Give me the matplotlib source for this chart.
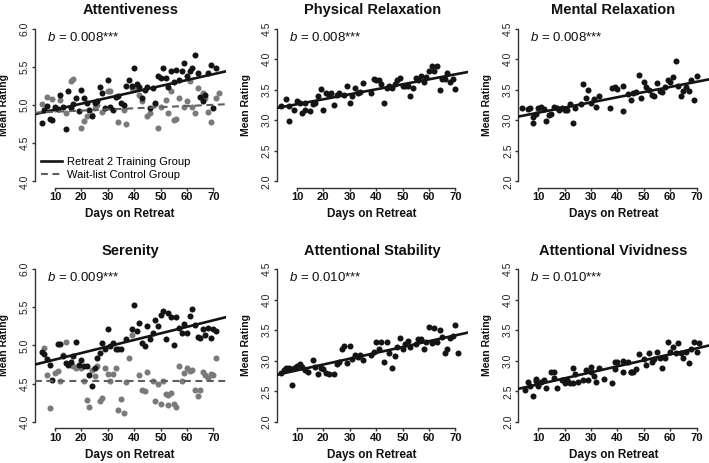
import matplotlib
matplotlib.use('Agg')
import matplotlib.pyplot as plt
from matplotlib.lines import Line2D

plt.rcParams['font.family'] = ['Liberation Sans', 'DejaVu Sans']
plt.rcParams['mathtext.fontset'] = 'custom'
plt.rcParams['mathtext.it'] = 'Liberation Sans:italic'
plt.rcParams['mathtext.rm'] = 'Liberation Sans'

# ---------------- data ----------------
titles = ['Attentiveness', 'Physical Relaxation', 'Mental Relaxation',
          'Serenity', 'Attentional Stability', 'Attentional Vividness']
b_labels = ['0.008', '0.008', '0.008', '0.009', '0.010', '0.010']
y_ranges = [(4.0, 6.0), (2.0, 4.5), (2.0, 4.5), (4.0, 6.0), (2.0, 4.5), (2.0, 4.5)]
x_ticks = [10, 20, 30, 40, 50, 60, 70]
x_range = (5, 72)

# Attentiveness - training group
att_t_days = list(range(5, 72))
att_t_vals = [4.77, 4.93, 4.99, 4.82, 4.80, 4.98, 4.95, 5.13, 4.97, 4.69,
              5.18, 4.96, 5.01, 5.09, 4.92, 5.20, 5.09, 5.02, 4.94, 4.85,
              5.02, 5.05, 5.24, 5.16, 4.96, 5.33, 4.98, 4.93, 5.10, 5.12,
              5.02, 5.00, 5.25, 5.33, 5.25, 5.49, 5.27, 5.24, 5.09, 5.20,
              5.23, 4.96, 5.22, 5.02, 5.38, 5.35, 5.49, 5.35, 5.24, 5.44,
              5.30, 5.46, 5.33, 5.45, 5.55, 5.38, 5.45, 5.49, 5.66, 5.42,
              5.11, 5.05, 5.13, 5.42, 5.53, 4.96, 5.49]
# Attentiveness - wait-list control group
att_c_days = [5, 7, 9, 10, 12, 14, 16, 17, 20, 21, 22, 24, 25, 26, 28, 30, 31,
              33, 34, 36, 37, 39, 40, 42, 43, 45, 46, 48, 49, 50, 52, 53, 54,
              55, 56, 57, 59, 60, 61, 62, 63, 64, 66, 67, 68, 69, 71, 72]
att_c_vals = [5.01, 5.10, 5.08, 4.95, 5.07, 4.89, 5.32, 5.34, 4.70, 4.79,
              4.85, 4.87, 4.96, 5.00, 4.91, 5.18, 5.18, 5.10, 4.78, 4.94,
              4.75, 5.22, 5.21, 5.13, 5.05, 4.85, 4.89, 5.01, 4.70, 4.98,
              5.07, 4.89, 5.18, 4.80, 4.82, 5.09, 4.98, 5.05, 5.31, 4.98,
              4.89, 5.22, 5.16, 5.09, 4.91, 4.78, 5.09, 5.16]

# Physical relaxation
phys_days = [4, 6, 7, 7, 9, 10, 11, 12, 13, 13, 15, 16, 17, 18, 19, 20, 21,
             22, 23, 24, 25, 26, 28, 29, 30, 31, 32, 33, 34, 35, 38, 39, 40,
             41, 42, 43, 44, 45, 46, 47, 48, 49, 50, 51, 52, 53, 54, 55, 56,
             57, 58, 59, 60, 61, 62, 63, 64, 65, 66, 67, 68, 69, 70]
phys_vals = [3.23, 3.34, 3.23, 2.98, 3.17, 3.32, 3.29, 3.12, 3.29, 3.17,
             3.15, 3.26, 3.29, 3.39, 3.51, 3.16, 3.45, 3.42, 3.45, 3.25,
             3.42, 3.44, 3.41, 3.56, 3.29, 3.40, 3.53, 3.45, 3.46, 3.61,
             3.45, 3.68, 3.66, 3.66, 3.59, 3.29, 3.52, 3.56, 3.53, 3.59,
             3.66, 3.69, 3.56, 3.56, 3.56, 3.39, 3.53, 3.69, 3.66, 3.72,
             3.62, 3.71, 3.80, 3.88, 3.80, 3.88, 3.49, 3.68, 3.67, 3.78,
             3.62, 3.67, 3.51]

# Mental relaxation
ment_days = [4, 6, 7, 8, 8, 9, 10, 11, 12, 13, 14, 15, 16, 17, 18, 19, 20,
             21, 22, 23, 24, 26, 27, 28, 29, 30, 31, 32, 33, 37, 38, 39, 40,
             42, 42, 44, 45, 46, 47, 48, 49, 50, 51, 52, 53, 54, 55, 56, 57,
             58, 59, 60, 61, 62, 63, 64, 65, 66, 67, 68, 69, 70]
ment_vals = [3.20, 3.18, 3.20, 3.05, 2.96, 3.11, 3.20, 3.22, 3.18, 2.99,
             3.09, 3.11, 3.22, 3.20, 3.16, 3.20, 3.17, 3.17, 3.27, 2.95,
             3.20, 3.27, 3.60, 3.37, 3.49, 3.28, 3.34, 3.22, 3.40, 3.20,
             3.52, 3.55, 3.51, 3.56, 3.15, 3.43, 3.33, 3.44, 3.47, 3.74,
             3.36, 3.63, 3.54, 3.49, 3.41, 3.39, 3.61, 3.48, 3.47, 3.54,
             3.66, 3.63, 3.70, 3.97, 3.56, 3.40, 3.48, 3.54, 3.48, 3.66,
             3.33, 3.72]

# Serenity - training group
ser_t_days = [5, 6, 7, 8, 9, 11, 12, 13, 14, 15, 16, 17, 18, 19, 20, 21, 22,
              23, 24, 25, 26, 27, 28, 29, 30, 31, 32, 33, 34, 35, 37, 39, 40,
              41, 42, 43, 44, 45, 46, 47, 48, 49, 50, 51, 52, 53, 54, 55, 56,
              57, 58, 59, 60, 61, 62, 63, 64, 65, 66, 67, 68, 69, 70, 71]
ser_t_vals = [4.92, 4.89, 4.82, 4.75, 4.55, 5.02, 5.02, 4.86, 4.77, 4.75,
              4.79, 4.86, 5.05, 4.75, 4.81, 4.73, 4.73, 4.61, 4.47, 4.71,
              4.84, 4.90, 5.03, 4.95, 5.21, 4.99, 5.03, 4.95, 4.95, 4.95,
              5.08, 5.21, 5.53, 5.19, 5.29, 5.03, 4.99, 5.26, 5.08, 5.16,
              5.34, 5.26, 5.40, 5.45, 5.09, 5.42, 5.37, 5.01, 5.37, 5.23,
              5.16, 5.28, 5.17, 5.39, 5.48, 5.27, 5.11, 5.10, 5.21, 5.14,
              5.23, 5.10, 5.21, 5.19]
# Serenity - wait-list control group
ser_c_days = [6, 7, 8, 10, 11, 12, 13, 14, 16, 17, 18, 20, 21, 22, 23, 24, 25,
              26, 27, 28, 29, 30, 31, 32, 33, 34, 35, 36, 37, 38, 39, 42, 43,
              44, 45, 47, 48, 49, 50, 51, 52, 53, 53, 54, 55, 56, 57, 58, 59,
              60, 61, 62, 63, 64, 65, 66, 67, 68, 69, 70, 71]
ser_c_vals = [4.97, 4.62, 4.18, 4.64, 4.66, 4.53, 4.88, 5.05, 4.75, 4.73,
              4.70, 4.71, 4.54, 4.28, 4.20, 4.68, 4.60, 4.73, 4.27, 4.31,
              4.71, 4.63, 4.54, 4.63, 4.71, 4.15, 4.30, 4.12, 4.52, 4.84,
              5.14, 4.62, 4.42, 4.40, 4.65, 4.54, 4.27, 4.50, 4.23, 4.54,
              4.36, 4.22, 4.35, 4.38, 4.23, 4.20, 4.73, 4.54, 4.64, 4.71,
              4.67, 4.68, 4.42, 4.34, 4.42, 4.65, 4.62, 4.57, 4.63, 4.62,
              4.84]

# Attentional stability
stab_days = [4, 5, 6, 7, 8, 9, 10, 11, 12, 13, 14, 16, 17, 18, 19, 20, 21,
             22, 24, 25, 26, 27, 28, 29, 30, 31, 32, 33, 34, 35, 38, 39, 40,
             41, 42, 43, 44, 45, 46, 47, 48, 49, 50, 51, 52, 53, 55, 56, 57,
             58, 59, 60, 61, 62, 63, 64, 65, 66, 67, 68, 69, 70, 71]
stab_vals = [2.80, 2.85, 2.88, 2.89, 2.60, 2.89, 2.92, 2.94, 2.90, 2.85,
             2.81, 3.01, 2.90, 2.78, 2.88, 2.87, 2.80, 2.78, 2.78, 2.94,
             2.98, 3.19, 3.25, 2.96, 3.25, 3.03, 3.09, 3.06, 3.09, 3.01,
             3.10, 3.14, 3.31, 3.20, 3.30, 2.98, 3.30, 3.13, 2.88, 3.08,
             3.22, 3.38, 3.19, 3.28, 3.33, 3.22, 3.28, 3.36, 3.35, 3.19,
             3.30, 3.55, 3.29, 3.53, 3.31, 3.51, 3.39, 3.12, 3.20, 3.37,
             3.40, 3.58, 3.12]

# Attentional vividness
viv_days = [5, 6, 7, 8, 9, 9, 10, 11, 12, 13, 15, 16, 16, 17, 19, 20, 21, 22,
            23, 23, 24, 25, 27, 28, 29, 30, 30, 31, 32, 33, 35, 38, 39, 39,
            40, 42, 42, 44, 45, 45, 46, 47, 48, 50, 51, 52, 53, 54, 55, 56,
            57, 58, 59, 60, 61, 62, 63, 64, 65, 66, 67, 68, 69, 70, 71]
viv_vals = [2.52, 2.65, 2.58, 2.42, 2.70, 2.67, 2.58, 2.65, 2.68, 2.56,
            2.82, 2.82, 2.72, 2.56, 2.69, 2.63, 2.69, 2.63, 2.88, 2.63,
            2.79, 2.65, 2.69, 2.85, 2.69, 2.81, 2.90, 2.75, 2.65, 2.88,
            2.70, 2.64, 2.86, 2.98, 2.98, 2.99, 2.82, 2.98, 2.82, 2.82,
            2.82, 2.86, 3.11, 3.03, 2.93, 3.12, 2.98, 3.03, 3.14, 3.05,
            2.89, 3.05, 3.31, 3.14, 3.23, 3.12, 3.29, 3.12, 3.05, 3.14,
            2.96, 3.19, 3.31, 3.15, 3.29]

# regression lines (intercept at day 0, slope per day)
fit_t_intercepts = [4.862, 3.181, 3.040, 4.730, 2.748, 2.517]
fit_t_slopes = [0.00774, 0.00815, 0.00843, 0.00857, 0.00954, 0.00981]
fit_c_intercepts = [4.896, None, None, 4.54, None, None]
fit_c_slopes = [0.00152, None, None, 0.0, None, None]

legend_labels = ['Retreat 2 Training Group', 'Wait-list Control Group']

train_series = [(att_t_days, att_t_vals), (phys_days, phys_vals),
                (ment_days, ment_vals), (ser_t_days, ser_t_vals),
                (stab_days, stab_vals), (viv_days, viv_vals)]
ctrl_series = [(att_c_days, att_c_vals), None, None,
               (ser_c_days, ser_c_vals), None, None]

# ---------------- plot ----------------
W, H = 709, 463
fig = plt.figure(figsize=(W / 100, H / 100), dpi=100)

lefts = [34.7, 276.7, 518.0]
tops = [22.5, 263.0]
aw, ah = 191.0, 165.0

black = '#141414'
grey_pt = '#7a7a7a'
grey_ln = '#5e5e5e'
axis_col = '#333333'

for i in range(6):
    r, c = divmod(i, 3)
    ax = fig.add_axes([lefts[c] / W, 1 - (tops[r] + ah) / H, aw / W, ah / H])
    lo, hi = y_ranges[i]
    pad_y = 0.04 * (hi - lo)
    pad_x = 0.04 * (x_range[1] - x_range[0])
    ax.set_xlim(x_range[0] - pad_x, x_range[1] + pad_x)
    ax.set_ylim(lo - pad_y, hi + pad_y)

    cs = ctrl_series[i]
    if cs is not None:
        m = min(len(cs[0]), len(cs[1]))
        ax.scatter(cs[0][:m], cs[1][:m], s=19, color=grey_pt, linewidths=0,
                   zorder=2)
    ts = train_series[i]
    n = min(len(ts[0]), len(ts[1]))
    ax.scatter(ts[0][:n], ts[1][:n], s=19, color=black, linewidths=0, zorder=3)

    ax.axline((0, fit_t_intercepts[i]), slope=fit_t_slopes[i], color=black,
              lw=1.9, zorder=4)
    if fit_c_intercepts[i] is not None:
        ax.axline((0, fit_c_intercepts[i]), slope=fit_c_slopes[i], color=grey_ln,
                  lw=1.5, linestyle=(0, (3.3, 2.2)), zorder=4)

    for s in ['top', 'right']:
        ax.spines[s].set_visible(False)
    ax.spines['left'].set_bounds(lo, hi)
    ax.spines['bottom'].set_bounds(x_ticks[0], x_ticks[-1])
    for s in ['left', 'bottom']:
        ax.spines[s].set_color(axis_col)
        ax.spines[s].set_linewidth(1.0)

    yt = [lo + 0.5 * k for k in range(int(round((hi - lo) / 0.5)) + 1)]
    ax.set_yticks(yt)
    ax.set_yticklabels(['%.1f' % v for v in yt], rotation=90, va='center',
                       fontsize=7.5, color='#222222')
    ax.set_xticks(x_ticks)
    ax.set_xticklabels([str(v) for v in x_ticks], fontsize=8,
                       fontweight='bold', color='#111111')
    ax.tick_params(axis='both', length=2.5, width=1.0, color=axis_col, pad=1)

    ax.set_title(titles[i], fontsize=10.5, fontweight='bold', pad=6,
                 color='#111111')
    ax.set_xlabel('Days on Retreat', fontsize=8.5, fontweight='bold',
                  color='#111111')
    ax.xaxis.set_label_coords(0.5, -0.125)
    ax.set_ylabel('Mean Rating', fontsize=7.5, fontweight='bold',
                  color='#111111')
    ax.yaxis.set_label_coords(-0.135, 0.5)

    ax.text(0.065, 0.91, r'$b$ = ' + b_labels[i] + '***', transform=ax.transAxes,
            fontsize=9.5, va='center', ha='left', color='#111111')

    if i == 0:
        handles = [Line2D([], [], color=black, lw=1.9),
                   Line2D([], [], color=grey_ln, lw=1.5,
                          linestyle=(0, (3.3, 2.2)))]
        ax.legend(handles, legend_labels, loc='lower left',
                  bbox_to_anchor=(0.02, 0.03), frameon=False, fontsize=8,
                  handlelength=1.9, handletextpad=0.5, labelspacing=0.3,
                  borderpad=0.2, borderaxespad=0.0)

fig.savefig('out.png', dpi=100)
